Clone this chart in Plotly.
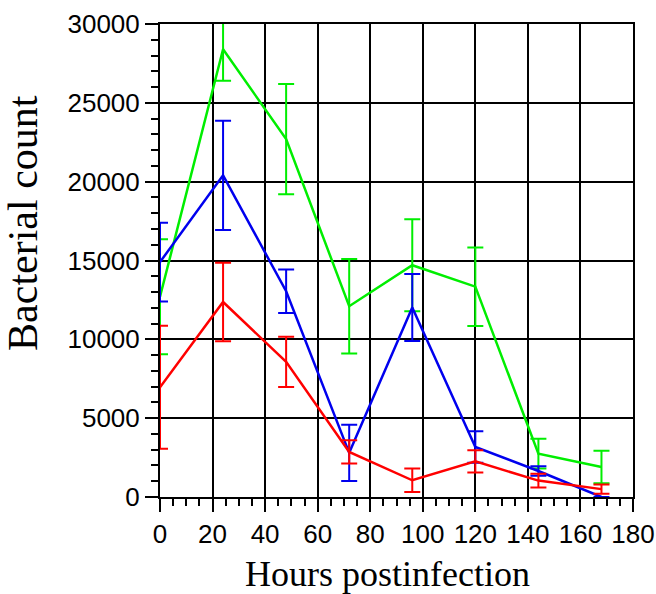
import plotly.graph_objects as go

hours = [0, 24, 48, 72, 96, 120, 144, 168]

green = [12700, 28400, 22700, 12100, 14700, 13340, 2750, 1900]
green_err = [3650, 2000, 3500, 3000, 2920, 2490, 950, 1035]

blue = [14900, 20400, 13050, 2800, 12020, 3170, 1650, 0]
blue_err = [2500, 3460, 1375, 1790, 2120, 1000, 300, 0]

red = [6960, 12370, 8570, 2860, 1060, 2260, 1040, 500]
red_err = [3900, 2490, 1590, 740, 740, 710, 440, 290]

x_title = "Hours postinfection"
y_title = "Bacterial count"

series = [
    ("green", green, green_err, "#00ee00"),
    ("blue", blue, blue_err, "#0000ee"),
    ("red", red, red_err, "#ff0000"),
]

fig = go.Figure()
for name, vals, errs, col in series:
    fig.add_trace(go.Scatter(
        x=hours, y=vals, mode="lines", name=name,
        line=dict(color=col, width=2.5),
        error_y=dict(type="data", array=errs, symmetric=True,
                     color=col, thickness=2, width=8),
        showlegend=False,
    ))

axis_common = dict(
    showline=True, linecolor="black", linewidth=2, mirror=True,
    showgrid=True, gridcolor="black", gridwidth=2,
    ticks="outside", tickcolor="black", tickwidth=2, ticklen=13,
    zeroline=False, automargin=False,
    tickformat="d", exponentformat="none", separatethousands=False,
    tickfont=dict(family="Liberation Sans, Arial, sans-serif", size=26, color="black"),
)

fig.update_xaxes(
    range=[0, 180], tick0=0, dtick=20,
    minor=dict(dtick=5, ticks="outside", ticklen=7, tickwidth=2, tickcolor="black", showgrid=False),
    **axis_common,
)
fig.update_yaxes(
    range=[0, 30000], tick0=0, dtick=5000,
    minor=dict(dtick=1000, ticks="outside", ticklen=7, tickwidth=2, tickcolor="black", showgrid=False),
    **axis_common,
)

# plot area in window px: left 160, right 632.7, top 24, bottom 497
PL, PR, PT, PB = 160, 632.7, 24, 497
FW, FH = 656, 594

title_font = dict(family="Liberation Serif, Times New Roman, serif", size=36, color="black")
fig.add_annotation(text=x_title, xref="paper", yref="paper",
                   x=(387 - PL) / (PR - PL), y=-(574 - PB) / (PB - PT),
                   xanchor="center", yanchor="middle", showarrow=False, font=title_font)
fig.add_annotation(text=y_title, xref="paper", yref="paper",
                   x=-(PL - 23) / (PR - PL), y=(PB - 223) / (PB - PT),
                   xanchor="center", yanchor="middle", showarrow=False, textangle=-90,
                   font=dict(family="Liberation Serif, Times New Roman, serif", size=42, color="black"))

fig.update_layout(
    width=FW, height=FH,
    margin=dict(l=PL, r=FW - PR, t=PT, b=FH - PB, autoexpand=False),
    plot_bgcolor="white", paper_bgcolor="white",
)

fig.write_html("out.html", config={"displayModeBar": False},
               post_script="document.body.style.margin='0';document.body.style.overflow='hidden';")
